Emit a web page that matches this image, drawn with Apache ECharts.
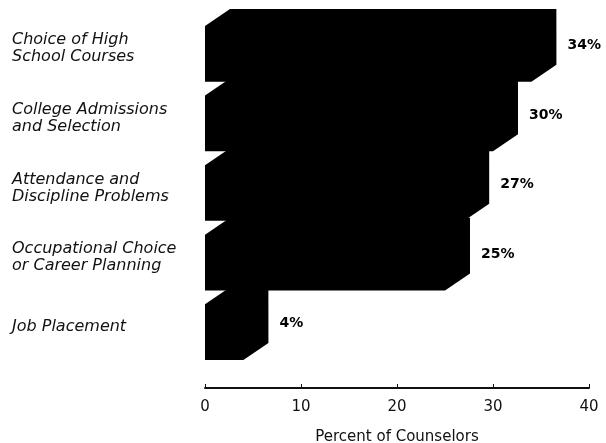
<!DOCTYPE html>
<html>
<head>
<meta charset="utf-8">
<script src="https://cdn.jsdelivr.net/npm/echarts@6/dist/echarts.min.js"></script>
<style>
  html, body { margin: 0; padding: 0; background: #fff; }
  #chart { width: 606px; height: 443px; }
</style>
</head>
<body>
<div id="chart"></div>
<script>
  // counselor activities, top to bottom
  var categories = [
    'Choice of High\nSchool Courses',
    'College Admissions\nand Selection',
    'Attendance and\nDiscipline Problems',
    'Occupational Choice\nor Career Planning',
    'Job Placement'
  ];
  var percents = [34, 30, 27, 25, 4];
  var xTicks = [0, 10, 20, 30, 40];

  var FONT = '"DejaVu Sans", "Liberation Sans", Arial, sans-serif';
  var myChart = echarts.init(document.getElementById('chart'));

  // 3d-looking block: front face + top + right side, all black
  function renderBlock(params, api) {
    var val = api.value(0);
    var cat = api.value(1);
    var p0 = api.coord([0, cat]);
    var p1 = api.coord([val, cat]);
    var band = api.size([0, 1])[1];
    var h = band * 0.8;
    var dx = 25, dy = 17;
    var yt = p0[1] - h / 2;
    var yb = p0[1] + h / 2;
    var x0 = p0[0], x1 = p1[0];
    return {
      type: 'group',
      children: [
        {
          type: 'polygon',
          shape: {
            points: [
              [x0, yb], [x0, yt], [x0 + dx, yt - dy], [x1 + dx, yt - dy],
              [x1 + dx, yb - dy], [x1, yb]
            ]
          },
          style: { fill: '#000' }
        },
        {
          type: 'text',
          style: {
            x: x1 + dx + 11,
            y: p0[1] - dy / 2,
            text: val + '%',
            fill: '#000',
            font: 'bold 14px ' + FONT,
            verticalAlign: 'middle',
            align: 'left'
          }
        }
      ]
    };
  }

  var option = {
    animation: false,
    grid: {
      left: 205,
      right: 17,
      top: 19,
      bottom: 76,
      outerBoundsMode: 'none'
    },
    xAxis: {
      type: 'value',
      min: xTicks[0],
      max: xTicks[xTicks.length - 1],
      interval: 10,
      offset: 21,
      name: 'Percent of Counselors',
      nameLocation: 'middle',
      nameGap: 42,
      nameTextStyle: { fontFamily: FONT, fontSize: 15, color: '#111' },
      axisLine: { show: true, lineStyle: { color: '#111', width: 2 } },
      axisTick: { show: true, inside: true, length: 4, lineStyle: { color: '#111' } },
      axisLabel: { fontFamily: FONT, fontSize: 15, color: '#111', margin: 12 },
      splitLine: { show: false }
    },
    yAxis: {
      type: 'category',
      inverse: true,
      data: categories,
      axisLine: { show: false },
      axisTick: { show: false },
      axisLabel: {
        align: 'left',
        margin: 193,
        // trailing spacer line lifts the text block a few px above the bar centre
        formatter: function (v) {
          return v.split('\n').map(function (l) { return '{t|' + l + '}'; }).join('\n') + '\n{s| }';
        },
        rich: {
          t: { fontFamily: FONT, fontStyle: 'italic', fontSize: 16, lineHeight: 17, color: '#111' },
          s: { fontSize: 8, lineHeight: 10 }
        }
      }
    },
    series: [
      {
        type: 'custom',
        renderItem: renderBlock,
        encode: { x: 0, y: 1 },
        data: percents.map(function (v, i) { return [v, i]; })
      }
    ]
  };

  myChart.setOption(option);
  window.addEventListener('resize', function () {
    myChart.resize()
  });
</script>
</body>
</html>
